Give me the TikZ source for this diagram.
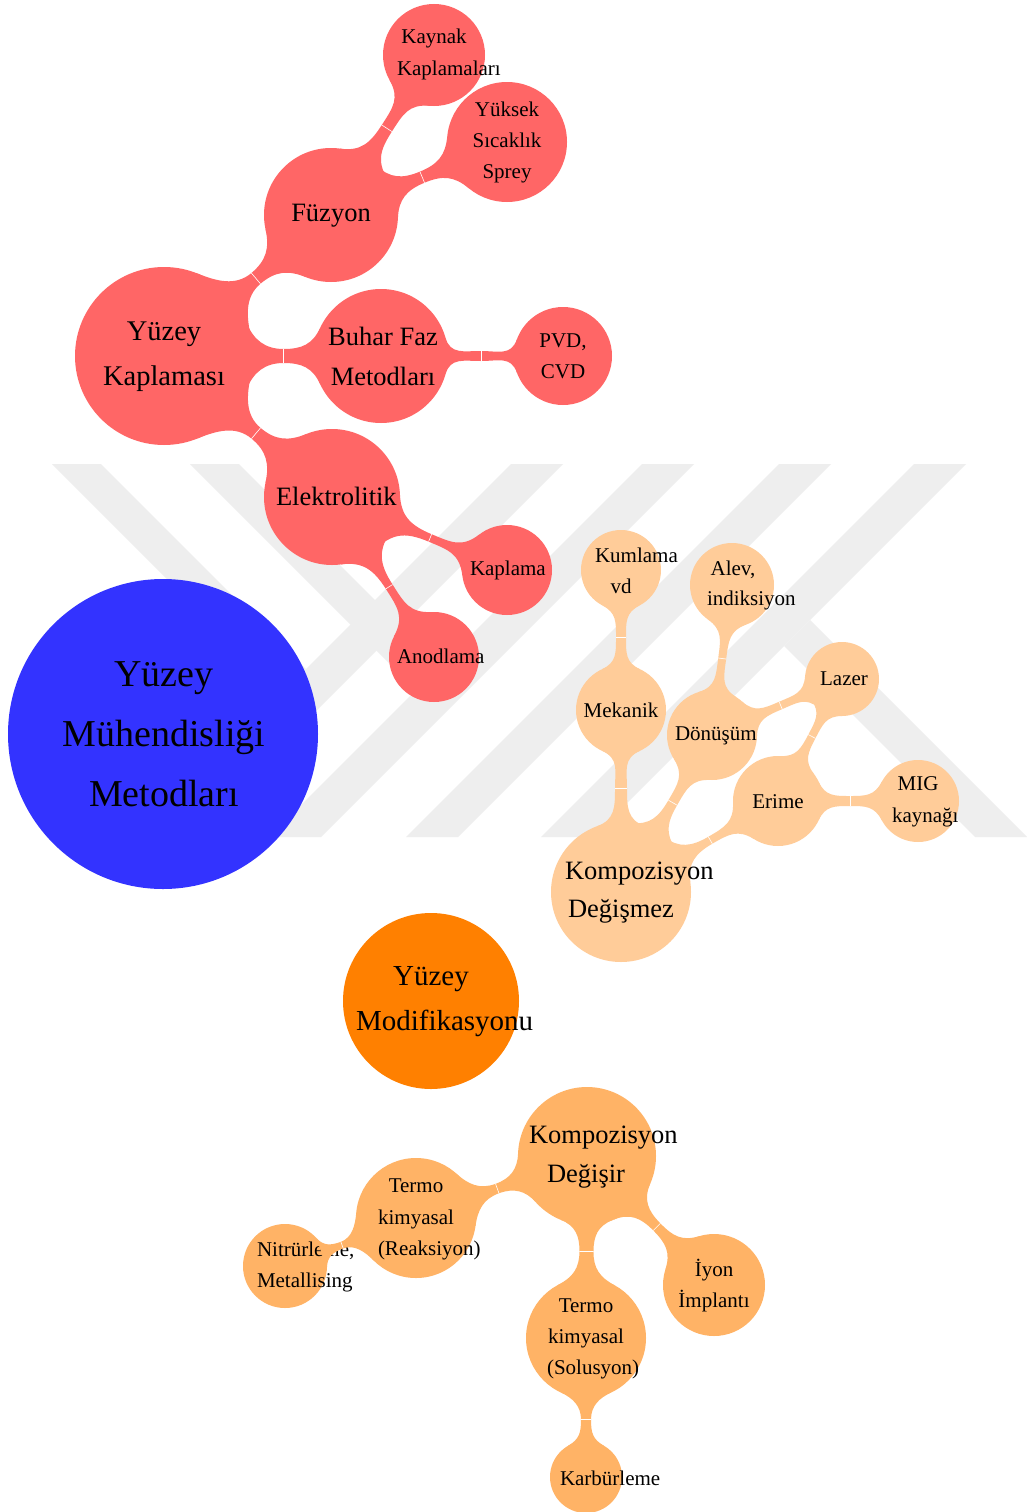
\documentclass[tikz,border=0pt]{standalone}
\usepackage{fontspec}
\setmainfont{Liberation Serif}
\usetikzlibrary{calc}
\pgfdeclarelayer{wmk}
\pgfdeclarelayer{links}
\pgfsetlayers{wmk,links,main}
\definecolor{cred}{RGB}{255,102,102}
\definecolor{cblue}{RGB}{51,51,255}
\definecolor{corng}{RGB}{255,128,0}
\definecolor{clight}{RGB}{255,204,153}
\definecolor{cmed}{RGB}{255,179,102}
\definecolor{cwm}{RGB}{238,238,238}
\tikzset{
 bub/.style={circle, inner sep=0pt, outer sep=0pt, draw=none, minimum size=#1},
 txbase/.style={inner sep=0pt, outer sep=0pt, text=black},
 txs/.style={txbase, anchor=base, font=\fontsize{21}{25}\selectfont},
 txsl/.style={txs, anchor=base west},
 txm/.style={txbase, anchor=base, font=\fontsize{26.5}{31}\selectfont},
 txml/.style={txm, anchor=base west},
 txk/.style={txbase, anchor=base, font=\fontsize{28.5}{33}\selectfont},
 txo/.style={txbase, anchor=base, font=\fontsize{29}{34}\selectfont},
 txol/.style={txo, anchor=base west},
 txr/.style={txbase, anchor=base, font=\fontsize{38}{44}\selectfont},
 wm/.style={fill=cwm, draw=none},
 tick/.style={draw=white, line width=0.6pt},
}
% #1 from node, #2 to node, #3 colour, #4 flare angle at #1, #5 flare angle at #2, #6 half waist (pt)
\newcommand\bbar[6]{%
\fill[#3] let \p1=(#1.center), \p2=(#2.center), \p3=(#1.east), \p4=(#2.east),
  \n1={atan2(\y2-\y1,\x2-\x1)},
  \n2={(\x3-\x1)*1}, \n3={(\x4-\x2)*1},
  \n4={veclen(\x2-\x1,\y2-\y1)},
  \n5={\n4-\n2-\n3},
  \n6={\n2+\n5/2},
  \n7={0.5*(\n2*(1-cos(#4))+\n5/2)},
  \n8={0.5*(\n3*(1-cos(#5))+\n5/2)}
 in
  ($(\p1)+(\n1+#4:\n2)$)
  .. controls +(\n1+#4-90:\n7) and +(\n1+180:\n7) .. ($(\p1)+(\n1:\n6)+(\n1+90:#6pt)$)
  .. controls +(\n1:\n8) and +(\n1+270-#5:\n8) .. ($(\p2)+(\n1+180-#5:\n3)$)
  -- ($(\p2)+(\n1+180+#5:\n3)$)
  .. controls +(\n1+90+#5:\n8) and +(\n1:\n8) .. ($(\p1)+(\n1:\n6)+(\n1-90:#6pt)$)
  .. controls +(\n1+180:\n7) and +(\n1-#4+90:\n7) .. ($(\p1)+(\n1-#4:\n2)$)
  -- cycle;
\draw[tick] let \p1=(#1.center), \p2=(#2.center), \p3=(#1.east), \p4=(#2.east),
  \n1={atan2(\y2-\y1,\x2-\x1)},
  \n2={(\x3-\x1)*1}, \n3={(\x4-\x2)*1},
  \n4={veclen(\x2-\x1,\y2-\y1)},
  \n6={\n2+(\n4-\n2-\n3)/2}
 in ($(\p1)+(\n1:\n6)+(\n1+90:#6pt)$) -- ($(\p1)+(\n1:\n6)+(\n1-90:#6pt)$);
}
\begin{document}
\begin{tikzpicture}[x=1pt,y=-1pt]
\useasboundingbox (0,0) rectangle (1027,1512);
\begin{pgfonlayer}{wmk}
\fill[white] (0,0) rectangle (1027,1512);
\fill[wm] (511,464) -- (563,464) -- (190,837) -- (138,837) -- cycle;
\fill[wm] (642,464) -- (694,464) -- (321,837) -- (269,837) -- cycle;
\fill[wm] (779,464) -- (831,464) -- (458,837) -- (406,837) -- cycle;
\fill[wm] (914,464) -- (966,464) -- (593,837) -- (541,837) -- cycle;
\fill[wm] (52,464) -- (101,464) -- (306,669) -- (281.5,693.5) -- cycle;
\fill[wm] (190,464) -- (239,464) -- (440.5,665.5) -- (416,690) -- cycle;
\fill[wm] (810,620) -- (1027,837) -- (975,837) -- (784,646) -- cycle;
\end{pgfonlayer}

% bubbles
\node[bub=178pt, fill=cred] (yk) at (164,356) {};
\node[bub=134pt, fill=cred] (fz) at (331,215) {};
\node[bub=102pt, fill=cred] (kk) at (434,55) {};
\node[bub=120pt, fill=cred] (ys) at (507,142) {};
\node[bub=134pt, fill=cred] (bf) at (381,356) {};
\node[bub=98pt, fill=cred] (pv) at (563,356) {};
\node[bub=136pt, fill=cred] (el) at (332,497) {};
\node[bub=90pt, fill=cred] (kp) at (507,570) {};
\node[bub=90pt, fill=cred] (an) at (434,657) {};
\node[bub=310pt, fill=cblue] (root) at (163,734) {};
\node[bub=176pt, fill=corng] (ym) at (431,1001) {};
\node[bub=140pt, fill=clight] (kd) at (621,892) {};
\node[bub=90pt, fill=clight] (mk) at (621,710) {};
\node[bub=80pt, fill=clight] (ku) at (621,570) {};
\node[bub=90pt, fill=clight] (dn) at (712,735) {};
\node[bub=84pt, fill=clight] (al) at (732,585) {};
\node[bub=74pt, fill=clight] (lz) at (842,679) {};
\node[bub=90pt, fill=clight] (er) at (778,801) {};
\node[bub=82pt, fill=clight] (mg) at (918,801) {};
\node[bub=138pt, fill=cmed] (kg) at (587,1156) {};
\node[bub=84pt, fill=cmed] (nt) at (285,1266) {};
\node[bub=120pt, fill=cmed] (tr) at (416,1218) {};
\node[bub=120pt, fill=cmed] (ts) at (586,1338) {};
\node[bub=102pt, fill=cmed] (iy) at (714,1285) {};
\node[bub=72pt, fill=cmed] (kb) at (586,1477) {};

% connectors
\begin{pgfonlayer}{links}
\bbar{yk}{fz}{cred}{28}{28}{7}
\bbar{fz}{kk}{cred}{25}{28}{6}
\bbar{fz}{ys}{cred}{25}{28}{6}
\bbar{yk}{bf}{cred}{22}{25}{7}
\bbar{bf}{pv}{cred}{16}{20}{5}
\bbar{yk}{el}{cred}{28}{28}{7}
\bbar{el}{kp}{cred}{25}{30}{4}
\bbar{el}{an}{cred}{25}{30}{4}
\bbar{kd}{mk}{clight}{20}{25}{6}
\bbar{mk}{ku}{clight}{25}{28}{5}
\bbar{kd}{dn}{clight}{22}{28}{5}
\bbar{dn}{al}{clight}{25}{28}{4}
\bbar{dn}{lz}{clight}{25}{28}{4}
\bbar{kd}{er}{clight}{22}{28}{4}
\bbar{er}{lz}{clight}{25}{28}{4}
\bbar{er}{mg}{clight}{25}{28}{5}
\bbar{kg}{tr}{cmed}{22}{28}{5}
\bbar{kg}{ts}{cmed}{22}{28}{7}
\bbar{kg}{iy}{cmed}{22}{28}{5}
\bbar{ts}{kb}{cmed}{25}{30}{5}
\end{pgfonlayer}

% texts
\node[txs] (kk-1) at (434,44) {Kaynak};
\node[txsl] (kk-2) at (397,75) {Kaplamaları};
\node[txs] (ys-1) at (507,116) {Yüksek};
\node[txs] (ys-2) at (507,147) {Sıcaklık};
\node[txs] (ys-3) at (507,178) {Sprey};
\node[txm] (fz-1) at (331,221) {Füzyon};
\node[txk] (yk-1) at (164,340) {Yüzey};
\node[txk] (yk-2) at (164,385) {Kaplaması};
\node[txm] (bf-1) at (383,345) {Buhar Faz};
\node[txm] (bf-2) at (383,385) {Metodları};
\node[txs] (pv-1) at (563,347) {PVD,};
\node[txs] (pv-2) at (563,378) {CVD};
\node[txml] (el-1) at (276,505) {Elektrolitik};
\node[txsl] (kp-1) at (470,575) {Kaplama};
\node[txsl] (an-1) at (397,663) {Anodlama};
\node[txr] (root-1) at (164,686) {Yüzey};
\node[txr] (root-2) at (164,746) {Mühendisliği};
\node[txr] (root-3) at (164,806) {Metodları};
\node[txo] (ym-1) at (431,985) {Yüzey};
\node[txol] (ym-2) at (356,1030) {Modifikasyonu};
\node[txml] (kd-1) at (565,879) {Kompozisyon};
\node[txm] (kd-2) at (621,917) {Değişmez};
\node[txs] (mk-1) at (621,717) {Mekanik};
\node[txsl] (ku-1) at (595,562) {Kumlama};
\node[txs] (ku-2) at (621,593) {vd};
\node[txsl] (dn-1) at (675,740) {Dönüşüm};
\node[txs] (al-1) at (733,575) {Alev,};
\node[txsl] (al-2) at (707,605) {indiksiyon};
\node[txs] (lz-1) at (844,685) {Lazer};
\node[txs] (er-1) at (778,808) {Erime};
\node[txs] (mg-1) at (918,790) {MIG};
\node[txsl] (mg-2) at (892,822) {kaynağı};
\node[txml] (kg-1) at (529,1143) {Kompozisyon};
\node[txm] (kg-2) at (586,1182) {Değişir};
\node[txs] (tr-1) at (416,1192) {Termo};
\node[txs] (tr-2) at (416,1224) {kimyasal};
\node[txsl] (tr-3) at (378,1255) {(Reaksiyon)};
\node[txsl] (nt-1) at (257,1256) {Nitrürleme,};
\node[txsl] (nt-2) at (257,1287) {Metallising};
\node[txs] (ts-1) at (586,1312) {Termo};
\node[txs] (ts-2) at (586,1343) {kimyasal};
\node[txsl] (ts-3) at (547,1374) {(Solusyon)};
\node[txs] (iy-1) at (714,1276) {İyon};
\node[txs] (iy-2) at (714,1307) {İmplantı};
\node[txsl] (kb-1) at (560,1485) {Karbürleme};

% this connector lies over the text of its child, as in the picture
\bbar{tr}{nt}{cmed}{25}{22}{3.5}
\end{tikzpicture}
\end{document}
